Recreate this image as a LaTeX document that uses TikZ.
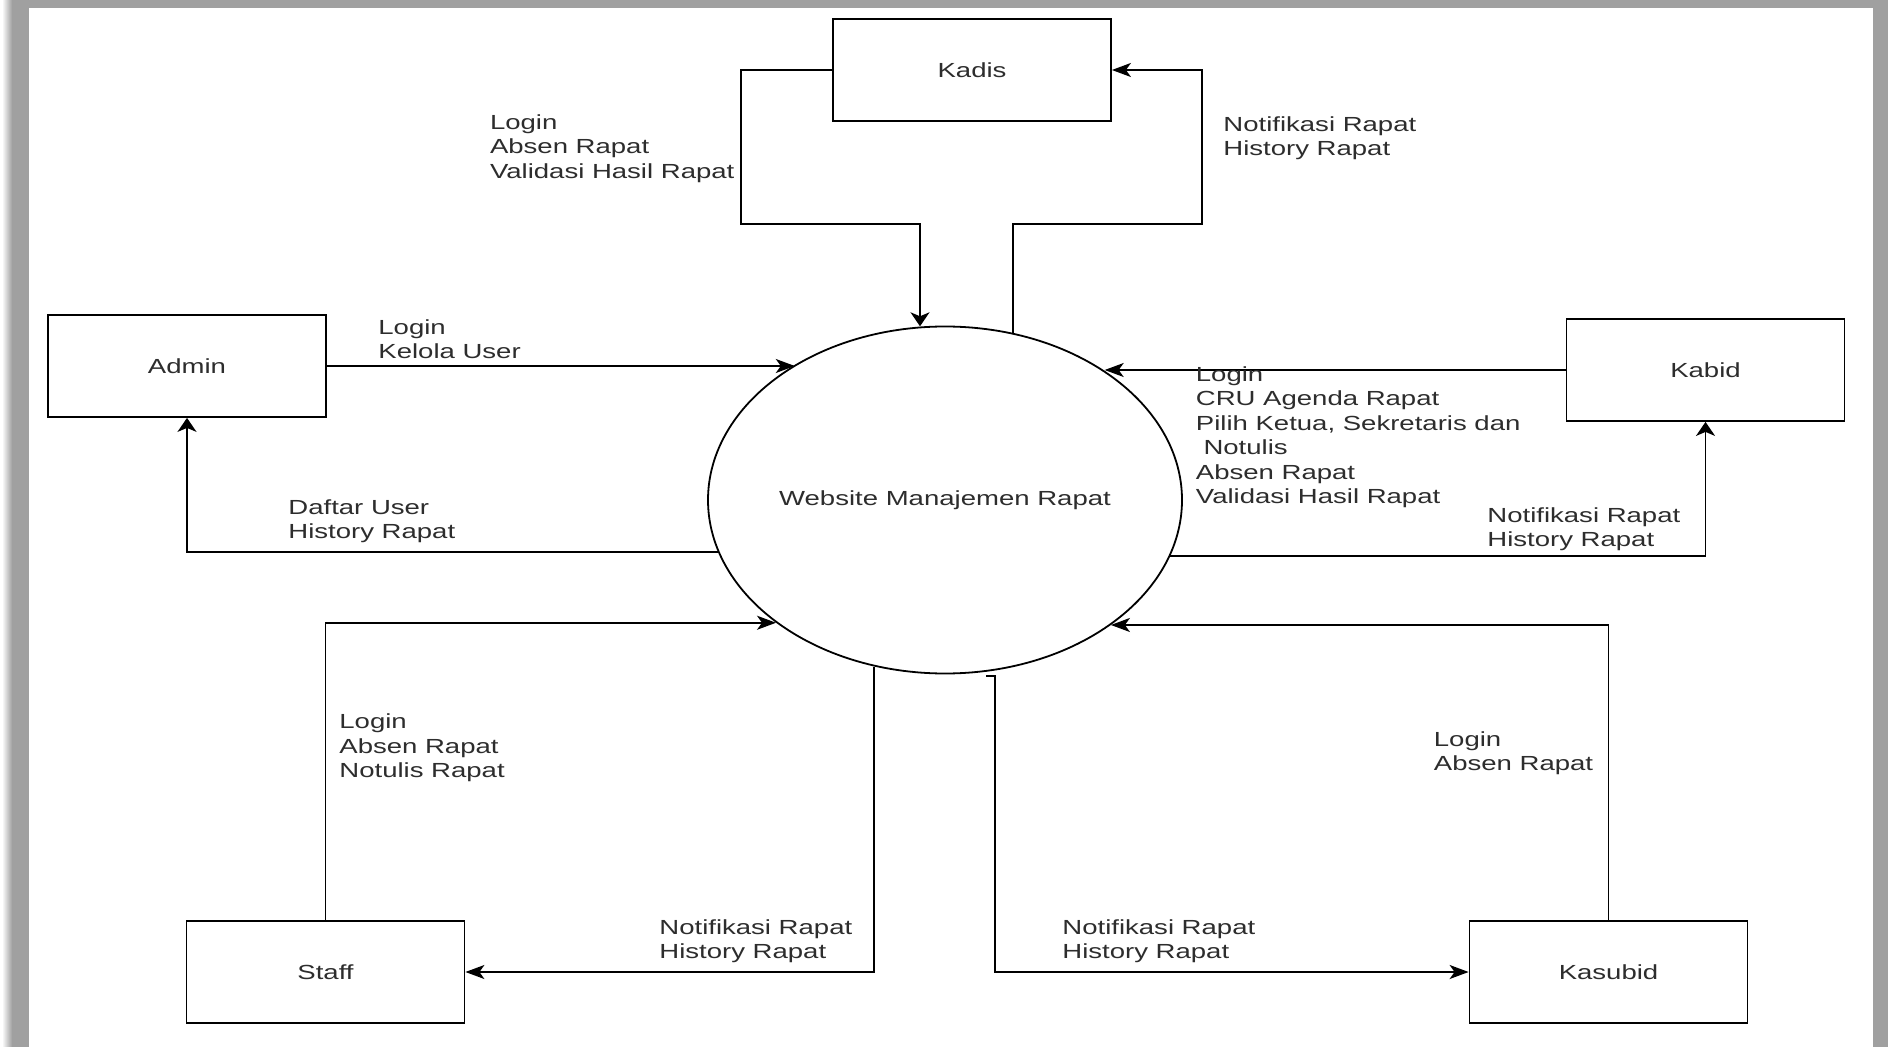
\documentclass[tikz,border=0pt]{standalone}
\usepackage{fontspec}
\setmainfont[FakeStretch=1.35]{Liberation Sans}
\usetikzlibrary{arrows.meta,shapes.geometric}
\definecolor{framegray}{RGB}{160,160,160}
\definecolor{txt}{RGB}{45,45,45}
\begin{document}
\begin{tikzpicture}[x=0.5pt,y=-0.5pt,
  every node/.style={font=\fontsize{10.2pt}{12.25pt}\selectfont, text=txt},
  entity/.style={draw=black, line width=0.9pt, minimum width=139pt, minimum height=51pt, inner sep=0pt},
  proc/.style={ellipse, draw=black, line width=0.9pt, minimum width=237pt, minimum height=173.5pt, inner sep=0pt},
  flow/.style={draw=black, line width=0.9pt},
  harrow/.style={flow, -{Stealth[length=9.5pt,width=7pt,inset=2.5pt]}},
  varrow/.style={flow, -{Stealth[length=7pt,width=9.5pt,inset=2pt]}},
  lbl/.style={anchor=north west, align=left, inner sep=0pt}]

% page and frame
\useasboundingbox (0,0) rectangle (1888,1047);
\fill[white] (0,0) rectangle (1888,1047);
\shade[left color=white, right color=framegray] (2,0) rectangle (12,1047);
\fill[framegray] (12,0) rectangle (29,1047);
\fill[framegray] (12,0) rectangle (1888,8);
\fill[framegray] (1873,0) rectangle (1888,1047);

% process and external entities
\node[proc] (proc) at (945,500) {Website Manajemen Rapat};
\node[entity] (kadis)   at (972,70)     {Kadis};
\node[entity] (admin)   at (187,366)    {Admin};
\node[entity] (kabid)   at (1705.5,370) {Kabid};
\node[entity] (staff)   at (325.5,972)  {Staff};
\node[entity] (kasubid) at (1608.5,972) {Kasubid};

% Kadis flows
\coordinate (kdown) at (920,224);
\coordinate (kup)   at (1013,224);
\draw[varrow] (kadis.west) -| (741,224) -- (kdown) -- (kdown |- proc.97.9);
\draw[harrow] (kup |- proc.67.4) -- (kup) -- (1202,224) |- (kadis.east);

% Admin flows
\draw[harrow] (admin.east) -- (admin.east -| proc.138.5);
\draw[varrow] (proc.193.3) -| (admin.south);

% Kabid flows
\draw[harrow] (kabid.west) -- (kabid.west -| proc.39.5);
\draw[varrow] (proc.346.3) -| (kabid.south);

% Staff flows
\draw[harrow] (staff.north) |- (proc.216.4);
\draw[harrow] (proc.247.4) |- (staff.east);

% Kasubid flows
\draw[harrow] (kasubid.north) |- (proc.323.6);
\coordinate (hook) at (986,676);
\draw[harrow] (hook) -- (995,676) |- (kasubid.west);

% flow labels
\node[lbl] (lkadisin)  at (489.6,114) {Login\\Absen Rapat\\Validasi Hasil Rapat};
\node[lbl] (lkadisout) at (1223,116)  {Notifikasi Rapat\\History Rapat};
\node[lbl] (ladminin)  at (378,319)   {Login\\Kelola User};
\node[lbl] (ladminout) at (288,499)   {Daftar User\\History Rapat};
\node[lbl] (lkabidin)  at (1195.5,366) {Login\\CRU Agenda Rapat\\Pilih Ketua, Sekretaris dan\\\hspace*{3.8pt}Notulis\\Absen Rapat\\Validasi Hasil Rapat};
\node[lbl] (lkabidout) at (1487,507)  {Notifikasi Rapat\\History Rapat};
\node[lbl] (lstaffin)  at (339,713.5) {Login\\Absen Rapat\\Notulis Rapat};
\node[lbl] (lstaffout) at (659,919)   {Notifikasi Rapat\\History Rapat};
\node[lbl] (lkasin)    at (1433.5,731) {Login\\Absen Rapat};
\node[lbl] (lkasout)   at (1062,919)  {Notifikasi Rapat\\History Rapat};
\end{tikzpicture}
\end{document}
